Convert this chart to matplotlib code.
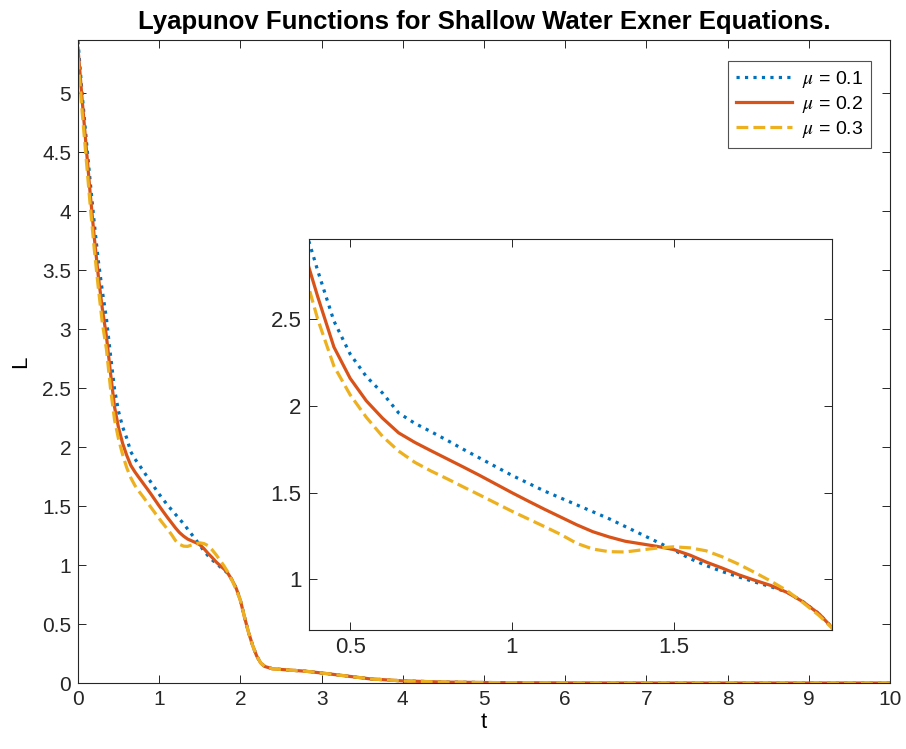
import matplotlib
matplotlib.use("Agg")
import matplotlib.pyplot as plt

plt.rcParams["font.family"] = ["Liberation Sans", "DejaVu Sans"]
plt.rcParams["mathtext.fontset"] = "stix"

# time samples and Lyapunov values
t = [0.00, 0.05, 0.10, 0.15, 0.20, 0.25, 0.30, 0.35, 0.40, 0.45,
     0.50, 0.55, 0.60, 0.65, 0.70, 0.75, 0.80, 0.85, 0.90, 0.95,
     1.00, 1.05, 1.10, 1.15, 1.20, 1.25, 1.30, 1.35, 1.40, 1.45,
     1.50, 1.55, 1.60, 1.65, 1.70, 1.75, 1.80, 1.85, 1.90, 1.95, 2.00]
L_01 = [5.44, 5.00, 4.62, 4.25, 3.90, 3.58, 3.32, 3.09, 2.78, 2.49,
        2.30, 2.17, 2.075, 1.96, 1.90, 1.852, 1.802, 1.75, 1.70, 1.65,
        1.60, 1.555, 1.51, 1.47, 1.43, 1.39, 1.35, 1.305, 1.26, 1.215,
        1.17, 1.12, 1.08, 1.045, 1.015, 0.985, 0.958, 0.927, 0.87, 0.80, 0.70]
L_02 = [5.38, 4.95, 4.55, 4.15, 3.78, 3.45, 3.17, 2.94, 2.63, 2.34,
        2.16, 2.03, 1.93, 1.845, 1.79, 1.742, 1.695, 1.648, 1.60, 1.55,
        1.50, 1.452, 1.405, 1.36, 1.315, 1.275, 1.245, 1.22, 1.205, 1.19,
        1.172, 1.14, 1.10, 1.065, 1.027, 0.995, 0.965, 0.925, 0.87, 0.80, 0.70]
L_03 = [5.30, 4.85, 4.45, 4.05, 3.68, 3.35, 3.05, 2.83, 2.50, 2.23,
        2.065, 1.935, 1.825, 1.74, 1.675, 1.625, 1.58, 1.533, 1.487, 1.44,
        1.393, 1.349, 1.305, 1.26, 1.208, 1.175, 1.16, 1.158, 1.17, 1.181,
        1.188, 1.182, 1.165, 1.13, 1.088, 1.04, 0.99, 0.935, 0.865, 0.79, 0.70]
# common decay after t = 2
t_tail = [2.05, 2.10, 2.15, 2.20, 2.25, 2.30, 2.40, 2.60, 2.80, 3.00,
          3.30, 3.60, 4.00, 4.50, 5.00, 6.00, 7.00, 8.00, 9.00, 10.00]
L_tail = [0.56, 0.43, 0.32, 0.23, 0.17, 0.14, 0.12, 0.11, 0.10, 0.085,
          0.06, 0.035, 0.018, 0.008, 0.004, 0.001, 0.0, 0.0, 0.0, 0.0]

labels = [r"$\mu$ = 0.1", r"$\mu$ = 0.2", r"$\mu$ = 0.3"]
colors = ["#0072BD", "#D95319", "#EDB120"]
styles = [":", "-", "--"]

tt = t + t_tail
series = [L_01 + L_tail, L_02 + L_tail, L_03 + L_tail]

fig = plt.figure(figsize=(9.06, 7.49), dpi=100)
ax = fig.add_axes([0.0861, 0.0881, 0.8962, 0.8585])
ins = fig.add_axes([0.3407, 0.1593, 0.5773, 0.5216])

for a in (ax, ins):
    for y, c, ls, lab in zip(series, colors, styles, labels):
        a.plot(tt, y, color=c, ls=ls, lw=2.3, label=lab)
    a.tick_params(direction="in", top=True, right=True, labelsize=15,
                  colors="#262626", length=6, width=0.7, pad=5)
    for s in a.spines.values():
        s.set_color("#262626"); s.set_linewidth(0.8)

ax.set_xlim(0, 10); ax.set_ylim(0, 5.45)
ax.set_xticks(range(0, 11))
ax.set_yticks([i * 0.5 for i in range(11)])
ax.set_yticklabels(["0", "0.5", "1", "1.5", "2", "2.5", "3", "3.5", "4", "4.5", "5"])
ax.set_xlabel("t", fontsize=16, labelpad=2)
ax.set_ylabel("L", fontsize=16, labelpad=8)
ax.set_title("Lyapunov Functions for Shallow Water Exner Equations.",
             fontsize=18.5, fontweight="bold", pad=8)
leg = ax.legend(loc="upper right", bbox_to_anchor=(0.9766, 0.967), borderaxespad=0,
                fontsize=14, frameon=True, fancybox=False, edgecolor="#262626",
                handlelength=2.9, borderpad=0.4, labelspacing=0.2, handletextpad=0.5)
leg.get_frame().set_linewidth(0.8)

ins.set_xlim(0.372, 1.988); ins.set_ylim(0.71, 2.963)
ins.set_xticks([0.5, 1, 1.5]); ins.set_xticklabels(["0.5", "1", "1.5"])
ins.set_yticks([1, 1.5, 2, 2.5]); ins.set_yticklabels(["1", "1.5", "2", "2.5"])
ins.tick_params(labelsize=16)

fig.savefig("out.png", dpi=100)
